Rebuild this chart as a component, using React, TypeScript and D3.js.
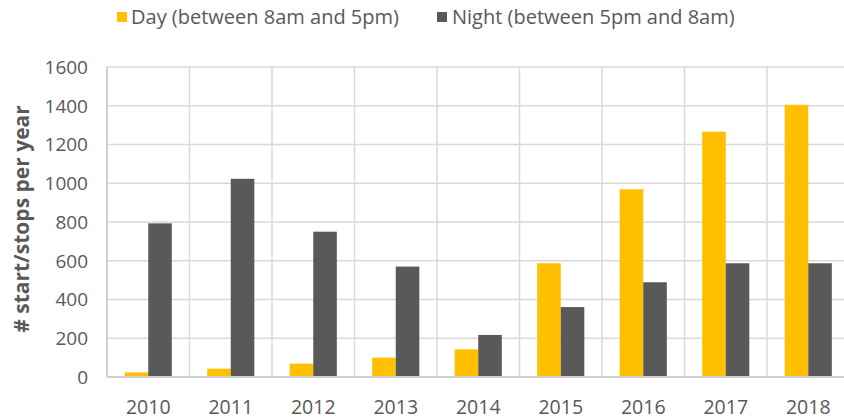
import React from "react";
import * as d3 from "d3";

const years = ["2010", "2011", "2012", "2013", "2014", "2015", "2016", "2017", "2018"];
const dayValues = [24, 43, 69, 100, 143, 587, 969, 1266, 1405];
const nightValues = [793, 1023, 750, 570, 217, 361, 489, 587, 587];
const yTicks = [0, 200, 400, 600, 800, 1000, 1200, 1400, 1600];
const seriesNames = ["Day (between 8am and 5pm)", "Night (between 5pm and 8am)"];
const seriesColors = ["#FFC000", "#595959"];

const W = 844;
const H = 419;
const left = 107;
const right = 849.5;
const top = 67;
const bottom = 377;
const FONT = "'Open Sans', 'Noto Sans', sans-serif";

export default function App() {
  const x = d3.scaleBand<string>().domain(years).range([left, right]).paddingInner(0).paddingOuter(0);
  const bw = x.bandwidth();
  const barW = bw / 3.5;
  const y = d3.scaleLinear().domain([0, 1600]).range([bottom, top]);
  const series = [dayValues, nightValues];

  return (
    <svg width={W} height={H} style={{ position: "absolute", left: 0, top: 0, background: "#fff" }} fontFamily={FONT}>
      {yTicks.map((t) => (
        <line key={"h" + t} x1={left} x2={right} y1={y(t)} y2={y(t)} stroke="#d9d9d9" strokeWidth={1.5} />
      ))}
      {years.map((yr) => (
        <line key={"v" + yr} x1={x(yr) as number} x2={x(yr) as number} y1={top} y2={bottom} stroke="#d9d9d9" strokeWidth={1.5} />
      ))}
      <line x1={right} x2={right} y1={top} y2={bottom} stroke="#d9d9d9" strokeWidth={1.5} />
      {series.map((vals, s) =>
        vals.map((v, i) => {
          const x0 = (x(years[i]) as number) + bw / 2 - barW + s * barW;
          return (
            <rect key={s + "-" + i} x={x0} y={y(v)} width={barW} height={bottom - y(v)} fill={seriesColors[s]} />
          );
        })
      )}
      <line x1={left} x2={right} y1={bottom} y2={bottom} stroke="#d0d0d0" strokeWidth={2} />
      <line x1={left} x2={left} y1={top} y2={bottom} stroke="#d0d0d0" strokeWidth={2} />
      {yTicks.map((t) => (
        <text key={"yt" + t} x={88} y={y(t)} dy="0.36em" textAnchor="end" fontSize={19} fill="#595959">
          {t}
        </text>
      ))}
      {years.map((yr) => (
        <text key={"xl" + yr} x={(x(yr) as number) + bw / 2} y={414} textAnchor="middle" fontSize={19.5} fill="#595959">
          {yr}
        </text>
      ))}
      <text
        transform={`translate(29, 219) rotate(-90)`}
        textAnchor="middle"
        fontSize={21}
        fontWeight="bold"
        fill="#595959"
      >
        # start/stops per year
      </text>
      <rect x={117} y={12} width={10} height={10} fill={seriesColors[0]} />
      <text x={131} y={24} fontSize={20} fill="#595959">{seriesNames[0]}</text>
      <rect x={437} y={12} width={10} height={10} fill={seriesColors[1]} />
      <text x={452} y={24} fontSize={20} fill="#595959">{seriesNames[1]}</text>
    </svg>
  );
}
